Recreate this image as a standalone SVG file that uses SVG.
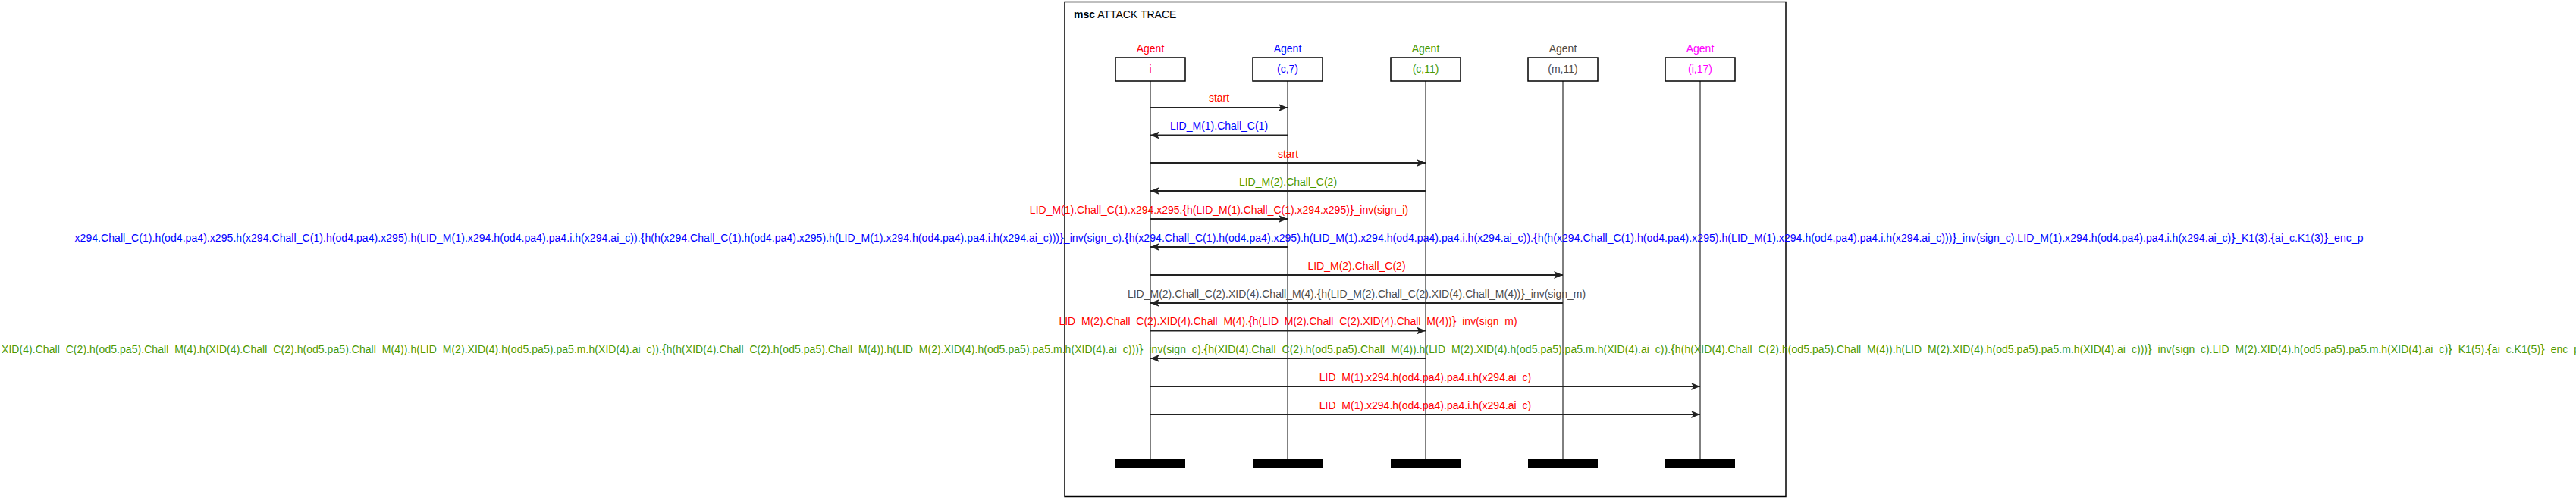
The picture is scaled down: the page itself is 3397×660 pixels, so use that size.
<svg xmlns="http://www.w3.org/2000/svg" width="3397" height="660" viewBox="0 0 3397 660">
<style>
text{font-family:"Liberation Sans",Arial,sans-serif;font-size:14px}
.c{text-anchor:middle}
.red{fill:#ff0000}.blue{fill:#0000ff}.green{fill:#4c9900}.gray{fill:#4d4d4d}.mag{fill:#ff00ff}
.box{fill:#fff;stroke:#000;stroke-width:1.5}
.life{stroke:#000;stroke-width:1}
.bar{fill:#000}
.msg{stroke:#222;stroke-width:2;fill:none;marker-end:url(#ah)}
.br{font-size:17px}
</style>
<defs>
<marker id="ah" markerUnits="userSpaceOnUse" markerWidth="12" markerHeight="10" refX="12" refY="5" orient="auto">
<path d="M0,0 L12,5 L0,10 L3,5 z" fill="#222"/>
</marker>
</defs>
<rect width="3397" height="660" fill="#fff"/>
<g id="frame">
<rect x="1404" y="2.5" width="951" height="653" fill="none" stroke="#000" stroke-width="1.5"/>
<text x="1416" y="24"><tspan font-weight="bold">msc</tspan> ATTACK TRACE</text>
</g>
<g id="agent_i">
<text class="c red" x="1517" y="69">Agent</text>
<rect class="box" x="1471" y="76" width="92" height="31"/>
<text class="c red" x="1517" y="96">i</text>
<line class="life" x1="1517" y1="107" x2="1517" y2="606"/>
<rect class="bar" x="1471" y="606" width="92" height="12"/>
</g>
<g id="agent_c7">
<text class="c blue" x="1698" y="69">Agent</text>
<rect class="box" x="1652" y="76" width="92" height="31"/>
<text class="c blue" x="1698" y="96">(c,7)</text>
<line class="life" x1="1698" y1="107" x2="1698" y2="606"/>
<rect class="bar" x="1652" y="606" width="92" height="12"/>
</g>
<g id="agent_c11">
<text class="c green" x="1880" y="69">Agent</text>
<rect class="box" x="1834" y="76" width="92" height="31"/>
<text class="c green" x="1880" y="96">(c,11)</text>
<line class="life" x1="1880" y1="107" x2="1880" y2="606"/>
<rect class="bar" x="1834" y="606" width="92" height="12"/>
</g>
<g id="agent_m11">
<text class="c gray" x="2061" y="69">Agent</text>
<rect class="box" x="2015" y="76" width="92" height="31"/>
<text class="c gray" x="2061" y="96">(m,11)</text>
<line class="life" x1="2061" y1="107" x2="2061" y2="606"/>
<rect class="bar" x="2015" y="606" width="92" height="12"/>
</g>
<g id="agent_i17">
<text class="c mag" x="2242" y="69">Agent</text>
<rect class="box" x="2196" y="76" width="92" height="31"/>
<text class="c mag" x="2242" y="96">(i,17)</text>
<line class="life" x1="2242" y1="107" x2="2242" y2="606"/>
<rect class="bar" x="2196" y="606" width="92" height="12"/>
</g>
<g id="connectors">
<line class="msg" x1="1517" y1="142" x2="1698" y2="142"/>
<text class="c red" x="1607.5" y="134">start</text>
<line class="msg" x1="1698" y1="178.5" x2="1517" y2="178.5"/>
<text class="c blue" x="1607.5" y="171">LID_M(1).Chall_C(1)</text>
<line class="msg" x1="1517" y1="215" x2="1880" y2="215"/>
<text class="c red" x="1698.5" y="207.5">start</text>
<line class="msg" x1="1880" y1="252" x2="1517" y2="252"/>
<text class="c green" x="1698.5" y="244.5">LID_M(2).Chall_C(2)</text>
<line class="msg" x1="1517" y1="289" x2="1698" y2="289"/>
<text class="c red" x="1607.5" y="281.5">LID_M(1).Chall_C(1).x294.x295.<tspan class="br">{</tspan>h(LID_M(1).Chall_C(1).x294.x295)<tspan class="br">}</tspan>_inv(sign_i)</text>
<line class="msg" x1="1698" y1="326" x2="1517" y2="326"/>
<text class="c blue" x="1607.5" y="318.5" textLength="3018">x294.Chall_C(1).h(od4.pa4).x295.h(x294.Chall_C(1).h(od4.pa4).x295).h(LID_M(1).x294.h(od4.pa4).pa4.i.h(x294.ai_c)).<tspan class="br">{</tspan>h(h(x294.Chall_C(1).h(od4.pa4).x295).h(LID_M(1).x294.h(od4.pa4).pa4.i.h(x294.ai_c)))<tspan class="br">}</tspan>_inv(sign_c).<tspan class="br">{</tspan>h(x294.Chall_C(1).h(od4.pa4).x295).h(LID_M(1).x294.h(od4.pa4).pa4.i.h(x294.ai_c)).<tspan class="br">{</tspan>h(h(x294.Chall_C(1).h(od4.pa4).x295).h(LID_M(1).x294.h(od4.pa4).pa4.i.h(x294.ai_c)))<tspan class="br">}</tspan>_inv(sign_c).LID_M(1).x294.h(od4.pa4).pa4.i.h(x294.ai_c)<tspan class="br">}</tspan>_K1(3).<tspan class="br">{</tspan>ai_c.K1(3)<tspan class="br">}</tspan>_enc_p</text>
<line class="msg" x1="1517" y1="363" x2="2061" y2="363"/>
<text class="c red" x="1789" y="355.5">LID_M(2).Chall_C(2)</text>
<line class="msg" x1="2061" y1="400" x2="1517" y2="400"/>
<text class="c gray" x="1789" y="392.5">LID_M(2).Chall_C(2).XID(4).Chall_M(4).<tspan class="br">{</tspan>h(LID_M(2).Chall_C(2).XID(4).Chall_M(4))<tspan class="br">}</tspan>_inv(sign_m)</text>
<line class="msg" x1="1517" y1="436.5" x2="1880" y2="436.5"/>
<text class="c red" x="1698.5" y="429">LID_M(2).Chall_C(2).XID(4).Chall_M(4).<tspan class="br">{</tspan>h(LID_M(2).Chall_C(2).XID(4).Chall_M(4))<tspan class="br">}</tspan>_inv(sign_m)</text>
<line class="msg" x1="1880" y1="473" x2="1517" y2="473"/>
<text class="c green" x="1702" y="465.5" textLength="3400">XID(4).Chall_C(2).h(od5.pa5).Chall_M(4).h(XID(4).Chall_C(2).h(od5.pa5).Chall_M(4)).h(LID_M(2).XID(4).h(od5.pa5).pa5.m.h(XID(4).ai_c)).<tspan class="br">{</tspan>h(h(XID(4).Chall_C(2).h(od5.pa5).Chall_M(4)).h(LID_M(2).XID(4).h(od5.pa5).pa5.m.h(XID(4).ai_c)))<tspan class="br">}</tspan>_inv(sign_c).<tspan class="br">{</tspan>h(XID(4).Chall_C(2).h(od5.pa5).Chall_M(4)).h(LID_M(2).XID(4).h(od5.pa5).pa5.m.h(XID(4).ai_c)).<tspan class="br">{</tspan>h(h(XID(4).Chall_C(2).h(od5.pa5).Chall_M(4)).h(LID_M(2).XID(4).h(od5.pa5).pa5.m.h(XID(4).ai_c)))<tspan class="br">}</tspan>_inv(sign_c).LID_M(2).XID(4).h(od5.pa5).pa5.m.h(XID(4).ai_c)<tspan class="br">}</tspan>_K1(5).<tspan class="br">{</tspan>ai_c.K1(5)<tspan class="br">}</tspan>_enc_p</text>
<line class="msg" x1="1517" y1="510" x2="2242" y2="510"/>
<text class="c red" x="1879.5" y="502.5">LID_M(1).x294.h(od4.pa4).pa4.i.h(x294.ai_c)</text>
<line class="msg" x1="1517" y1="547" x2="2242" y2="547"/>
<text class="c red" x="1879.5" y="539.5">LID_M(1).x294.h(od4.pa4).pa4.i.h(x294.ai_c)</text>
</g>
</svg>
